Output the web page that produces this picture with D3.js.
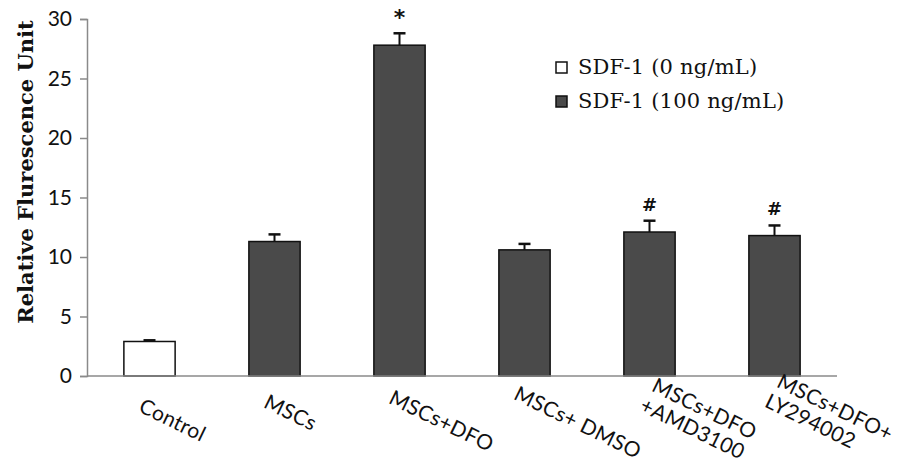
<!DOCTYPE html>
<html lang="en">
<head>
    <meta charset="UTF-8">
    <title>Relative Flurescence Unit</title>
    <script src="https://d3js.org/d3.v7.min.js" charset="utf-8"></script>
    <style>
        body { margin: 0; background: #fff; }
        svg { display: block; background: #fff; }
    </style>
</head>
<body>
    <div id="chart"></div>
    <script>
        // chart data
        var categories = ['Control', 'MSCs', 'MSCs+DFO', 'MSCs+ DMSO', 'MSCs+DFO\n+AMD3100', 'MSCs+DFO+\nLY294002'];
        var seriesNames = ['SDF-1 (0 ng/mL)', 'SDF-1 (100 ng/mL)'];
        var seriesOf = [0, 1, 1, 1, 1, 1];
        var values = [2.9, 11.3, 27.8, 10.6, 12.1, 11.8];
        var errors = [0.1, 0.6, 1.0, 0.5, 0.95, 0.85];
        var marks = ['', '', '*', '', '#', '#'];
        var yTicks = [0, 5, 10, 15, 20, 25, 30];

        var svgWidth = 898;
        var svgHeight = 466;

        var svg = d3.select('#chart')
                    .append('svg')
                    .attr('width', svgWidth)
                    .attr('height', svgHeight);

        var xScale = d3.scaleBand()
                        .domain(categories)
                        .range([87, 837])
                        .paddingInner(0.59)
                        .paddingOuter(0.295);

        var yScale = d3.scaleLinear()
                        .domain([0, 30])
                        .range([376, 19]);

        var fillScale = d3.scaleOrdinal()
                        .domain(seriesNames)
                        .range(['#ffffff', '#4a4a4a']);

        var rows = categories.map(function(c, i) {
            return { cat: c, value: values[i], err: errors[i], mark: marks[i], series: seriesNames[seriesOf[i]] };
        });

        // y axis
        var yAxis = d3.axisLeft(yScale)
                    .tickValues(yTicks)
                    .tickSize(7)
                    .tickPadding(8);

        var yG = svg.append('g')
            .attr('transform', 'translate(87,0)')
            .call(yAxis);
        yG.select('.domain').attr('stroke', '#8a8a8a').attr('stroke-width', 1.5);
        yG.selectAll('.tick line').attr('stroke', '#8a8a8a').attr('stroke-width', 1.5);
        yG.selectAll('.tick text')
            .attr('fill', '#111')
            .style('font-family', 'Lato')
            .style('font-size', '21px');

        // bars
        svg.selectAll('rect.bar')
            .data(rows)
            .enter()
            .append('rect')
            .attr('class', 'bar')
            .attr('x', function(d) { return xScale(d.cat); })
            .attr('y', function(d) { return yScale(d.value); })
            .attr('width', xScale.bandwidth())
            .attr('height', function(d) { return yScale(0) - yScale(d.value); })
            .attr('fill', function(d) { return fillScale(d.series); })
            .attr('stroke', '#111')
            .attr('stroke-width', 1.5);

        // error bars (upper only)
        var eb = svg.selectAll('g.err')
            .data(rows)
            .enter()
            .append('g')
            .attr('class', 'err')
            .attr('transform', function(d) { return 'translate(' + (xScale(d.cat) + xScale.bandwidth() / 2) + ',0)'; });

        eb.append('line')
            .attr('x1', 0).attr('x2', 0)
            .attr('y1', function(d) { return yScale(d.value); })
            .attr('y2', function(d) { return yScale(d.value + d.err); })
            .attr('stroke', '#111').attr('stroke-width', 2);

        eb.append('line')
            .attr('x1', -6).attr('x2', 6)
            .attr('y1', function(d) { return yScale(d.value + d.err); })
            .attr('y2', function(d) { return yScale(d.value + d.err); })
            .attr('stroke', '#111').attr('stroke-width', 2.5);

        eb.append('text')
            .attr('x', 0)
            .attr('y', function(d) { return yScale(d.value + d.err) - (d.mark === '*' ? 8 : 10); })
            .attr('text-anchor', 'middle')
            .style('font-family', 'DejaVu Sans')
            .style('font-weight', 'bold')
            .style('font-size', function(d) { return d.mark === '*' ? '22px' : '18px'; })
            .attr('fill', '#111')
            .text(function(d) { return d.mark; });

        // x axis line
        svg.append('line')
            .attr('x1', 87).attr('x2', 837)
            .attr('y1', yScale(0)).attr('y2', yScale(0))
            .attr('stroke', '#8a8a8a').attr('stroke-width', 1.5);

        // category labels, rotated
        var lineH = 23;
        var labels = svg.selectAll('text.cat')
            .data(categories)
            .enter()
            .append('text')
            .attr('class', 'cat')
            .attr('transform', function(d) {
                var cx = xScale(d) + xScale.bandwidth() / 2;
                var multi = d.indexOf('\n') >= 0;
                var ax = multi ? cx + 1 : cx - 12;
                var ay = 411 - 0.033 * (cx - 150) + (multi ? -4 : 0);
                return 'translate(' + ax + ',' + ay + ') rotate(26)';
            })
            .style('font-family', 'Lato')
            .style('font-size', '21px')
            .style('letter-spacing', '0.3px')
            .attr('fill', '#111');

        labels.each(function(d) {
            var parts = d.split('\n');
            var t = d3.select(this);
            parts.forEach(function(p, i) {
                t.append('tspan')
                    .attr('x', i === 0 ? 0 : -2)
                    .attr('dy', i === 0 ? 0 : lineH)
                    .text(p);
            });
        });

        // y axis title
        svg.append('text')
            .attr('transform', 'translate(33,' + 172 + ') rotate(-90)')
            .attr('text-anchor', 'middle')
            .style('font-family', 'DejaVu Serif')
            .style('font-weight', 'bold')
            .style('font-size', '21px')
            .attr('fill', '#111')
            .text('Relative Flurescence Unit');

        // legend
        var legend = svg.append('g')
            .attr('transform', 'translate(556,62)');

        legend.selectAll('rect')
            .data(seriesNames)
            .enter()
            .append('rect')
            .attr('x', 0)
            .attr('y', function(d, i) { return i * 34; })
            .attr('width', 11)
            .attr('height', 11)
            .attr('fill', function(d) { return fillScale(d); })
            .attr('stroke', '#111')
            .attr('stroke-width', 1.5);

        legend.selectAll('text')
            .data(seriesNames)
            .enter()
            .append('text')
            .attr('x', 22)
            .attr('y', function(d, i) { return i * 34 + 12; })
            .style('font-family', 'DejaVu Serif')
            .style('font-size', '21px')
            .style('letter-spacing', '0.2px')
            .attr('fill', '#111')
            .text(function(d) { return d; });
    </script>
</body>
</html>
